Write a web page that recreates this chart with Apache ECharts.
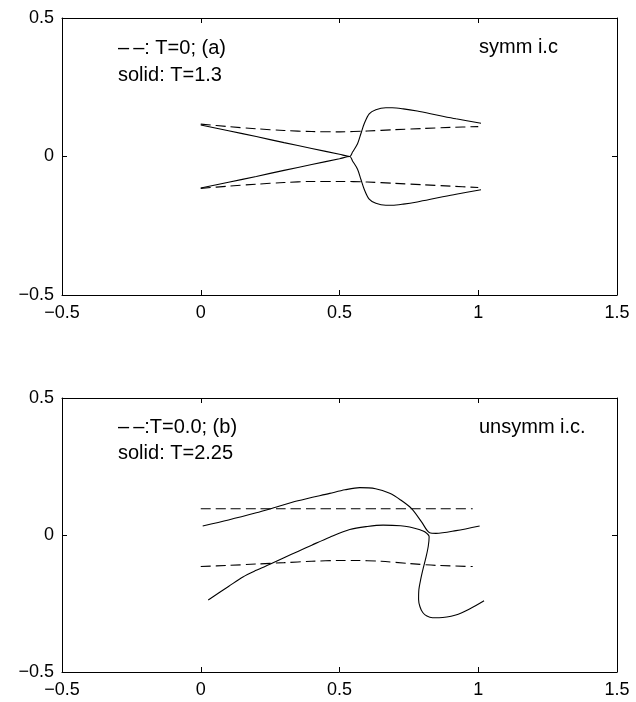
<!DOCTYPE html>
<html>
<head>
<meta charset="utf-8">
<script src="https://cdn.jsdelivr.net/npm/echarts@6/dist/echarts.min.js"></script>
<style>
html,body{margin:0;padding:0;background:#fff;}
#chart{width:636px;height:702px;}
</style>
</head>
<body>
<div id="chart"></div>
<script>
// ---- axis ticks ----
const xTicks = [-0.5, 0, 0.5, 1, 1.5];
const yTicks = [-0.5, 0, 0.5];

// ---- panel (a): symmetric initial condition ----
const aDashX = [0, 0.1, 0.2, 0.3, 0.4, 0.5, 0.6, 0.7, 0.8, 0.9, 1.0];
const aDashUpY = [0.117, 0.108, 0.100, 0.094, 0.090, 0.089, 0.092, 0.097, 0.101, 0.105, 0.108];
const aDashLoY = [-0.115, -0.107, -0.100, -0.094, -0.090, -0.090, -0.092, -0.097, -0.102, -0.107, -0.112];

const aSolidX = [0, 0.1, 0.2, 0.3, 0.4, 0.5, 0.537, 0.547, 0.565, 0.577, 0.589, 0.607, 0.631, 0.667, 0.69, 0.73, 0.78, 0.85, 0.92, 1.01];
const aSolidUpY = [0.114, 0.093, 0.072, 0.050, 0.029, 0.008, 0, 0.016, 0.046, 0.082, 0.118, 0.154, 0.169, 0.176, 0.176, 0.172, 0.164, 0.150, 0.136, 0.120];
const aSolidLoY = [-0.114, -0.093, -0.072, -0.050, -0.029, -0.008, 0, -0.016, -0.046, -0.082, -0.118, -0.154, -0.169, -0.176, -0.176, -0.172, -0.164, -0.150, -0.136, -0.120];

// ---- panel (b): unsymmetric initial condition ----
const bDashX = [0, 0.1, 0.2, 0.3, 0.4, 0.5, 0.55, 0.65, 0.75, 0.85, 0.98];
const bDashUpY = [0.096, 0.096, 0.096, 0.096, 0.096, 0.096, 0.096, 0.096, 0.096, 0.096, 0.096];
const bDashLoY = [-0.115, -0.111, -0.106, -0.101, -0.096, -0.093, -0.093, -0.096, -0.104, -0.111, -0.115];

const bSolid1X = [0.007, 0.1, 0.2, 0.249, 0.35, 0.465, 0.52, 0.573, 0.63, 0.681, 0.72, 0.759, 0.795, 0.825, 0.848, 0.92, 1.005];
const bSolid1Y = [0.033, 0.055, 0.081, 0.095, 0.125, 0.152, 0.165, 0.173, 0.169, 0.152, 0.128, 0.097, 0.049, 0.008, 0.006, 0.016, 0.033];

const bSolid2X = [0.027, 0.1, 0.152, 0.2, 0.249, 0.3, 0.35, 0.4, 0.465, 0.537, 0.6, 0.657, 0.72, 0.753, 0.79, 0.807, 0.823, 0.82, 0.812, 0.802, 0.793, 0.786, 0.785, 0.79, 0.80, 0.815, 0.835, 0.859, 0.919, 0.967, 1.021];
const bSolid2Y = [-0.237, -0.188, -0.153, -0.129, -0.107, -0.083, -0.060, -0.037, -0.008, 0.020, 0.031, 0.036, 0.034, 0.029, 0.019, 0.012, -0.006, -0.040, -0.080, -0.120, -0.160, -0.200, -0.235, -0.262, -0.283, -0.296, -0.302, -0.302, -0.292, -0.271, -0.240];

// ---- annotation texts ----
const aTexts = ['\u2013\u2009\u2013: T=0; (a)', 'solid: T=1.3', 'symm i.c'];
const bTexts = ['\u2013\u2009\u2013:T=0.0; (b)', 'solid: T=2.25', 'unsymm i.c.'];

function zip(xs, ys) { return xs.map((x, i) => [x, ys[i]]); }
const FONT = 'Liberation Sans, Arial, Helvetica, sans-serif';
const fmt = v => String(v).replace('-', '\u2212');

function xAxes(gi) {
  const base = {
    type: 'value', gridIndex: gi, min: xTicks[0], max: xTicks[xTicks.length - 1], interval: 0.5,
    axisLine: { show: true, onZero: false, lineStyle: { color: '#000', width: 1 } },
    axisTick: { show: true, inside: true, length: 5, lineStyle: { color: '#000' } },
    splitLine: { show: false }
  };
  return [
    Object.assign({}, base, { position: 'bottom',
      axisLabel: { show: true, margin: 9, color: '#000', fontSize: 18, fontFamily: FONT, formatter: fmt, hideOverlap: false, showMinLabel: true, showMaxLabel: true } }),
    Object.assign({}, base, { position: 'top', axisLabel: { show: false } })
  ];
}
function yAxes(gi) {
  const base = {
    type: 'value', gridIndex: gi, min: yTicks[0], max: yTicks[yTicks.length - 1], interval: 0.5,
    axisLine: { show: true, onZero: false, lineStyle: { color: '#000', width: 1 } },
    axisTick: { show: true, inside: true, length: 5, lineStyle: { color: '#000' } },
    splitLine: { show: false }
  };
  return [
    Object.assign({}, base, { position: 'left',
      axisLabel: { show: true, margin: 8, color: '#000', fontSize: 18, fontFamily: FONT, formatter: fmt, showMinLabel: true, showMaxLabel: true } }),
    Object.assign({}, base, { position: 'right', axisLabel: { show: false } })
  ];
}

function line(data, xi, yi, dashed) {
  return {
    type: 'line', data: data, xAxisIndex: xi, yAxisIndex: yi,
    showSymbol: false, symbol: 'none', smooth: 0.3, animation: false,
    lineStyle: { color: '#000', width: 1.1, type: dashed ? [10, 5] : 'solid' }
  };
}

const chart = echarts.init(document.getElementById('chart'), null, { renderer: 'canvas' });
const txt = (t, x, y) => ({ type: 'text', x: x, y: y,
  style: { text: t, fill: '#000', font: '20px ' + FONT, verticalAlign: 'middle', align: 'left' } });

chart.setOption({
  backgroundColor: '#fff',
  animation: false,
  grid: [
    { left: 62, top: 18, width: 555, height: 277 },
    { left: 62, top: 398, width: 555, height: 274 }
  ],
  xAxis: xAxes(0).concat(xAxes(1)),
  yAxis: yAxes(0).concat(yAxes(1)),
  series: [
    line(zip(aDashX, aDashUpY), 0, 0, true),
    line(zip(aDashX, aDashLoY), 0, 0, true),
    line(zip(aSolidX, aSolidUpY), 0, 0, false),
    line(zip(aSolidX, aSolidLoY), 0, 0, false),
    line(zip(bDashX, bDashUpY), 2, 2, true),
    line(zip(bDashX, bDashLoY), 2, 2, true),
    line(zip(bSolid1X, bSolid1Y), 2, 2, false),
    line(zip(bSolid2X, bSolid2Y), 2, 2, false)
  ],
  graphic: [
    txt(aTexts[0], 118, 48),
    txt(aTexts[1], 118, 75),
    txt(aTexts[2], 479, 47),
    txt(bTexts[0], 118, 427),
    txt(bTexts[1], 118, 453),
    txt(bTexts[2], 479, 427)
  ]
});
</script>
</body>
</html>
